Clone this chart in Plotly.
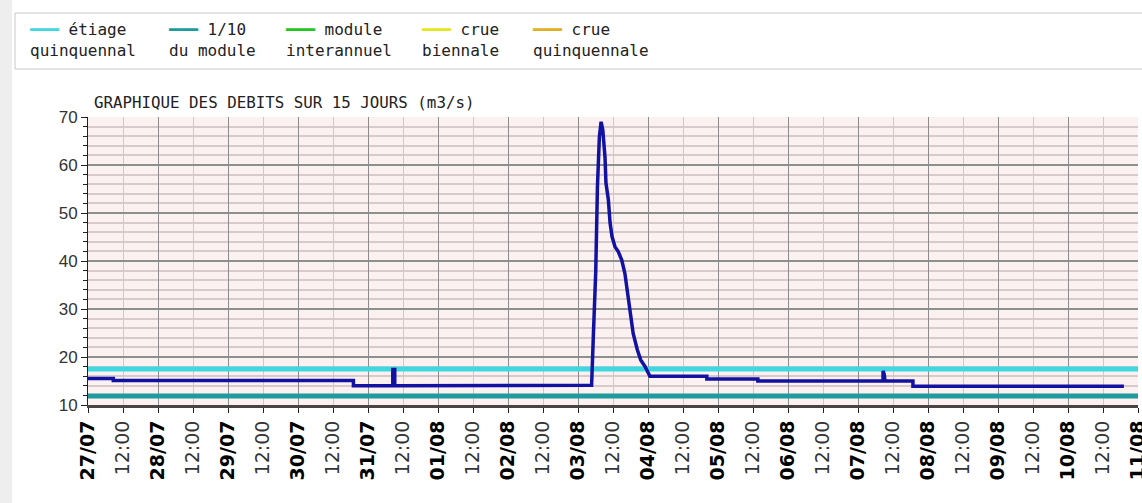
import plotly.graph_objects as go

# ---------------- data ----------------
YEAR = "2023"
flow_times = [
    "07-27 00:00", "07-27 08:40", "07-27 08:40", "07-30 19:00", "07-30 19:00",
    "07-31 08:30", "07-31 08:30", "07-31 09:10", "07-31 09:10",
    "08-03 04:40", "08-03 05:15", "08-03 06:05", "08-03 06:40", "08-03 07:20",
    "08-03 07:55", "08-03 08:30", "08-03 09:15", "08-03 09:35", "08-03 10:25",
    "08-03 11:00", "08-03 11:40", "08-03 12:40", "08-03 13:50", "08-03 15:00",
    "08-03 16:05", "08-03 16:55", "08-03 17:50", "08-03 18:55", "08-03 20:20",
    "08-03 21:30", "08-03 23:00", "08-04 00:05", "08-04 00:40",
    "08-04 20:10", "08-04 20:10", "08-05 13:40", "08-05 13:40",
    "08-07 08:35", "08-07 08:35", "08-07 09:00", "08-07 09:15",
    "08-07 18:50", "08-07 18:50", "08-10 19:10",
]
flow_values = [
    15.5, 15.5, 15.1, 15.1, 14.0,
    14.0, 17.4, 17.4, 14.0,
    14.1, 24.2, 37.8, 55.5, 65.9,
    69.0, 67.3, 61.7, 56.3, 52.7,
    47.9, 45.1, 43.0, 41.9, 40.2,
    37.4, 33.3, 29.1, 24.9, 21.5,
    19.4, 18.0, 16.6, 16.0,
    16.0, 15.4, 15.4, 15.0,
    15.0, 17.1, 16.4, 15.0,
    15.0, 13.9, 13.9,
]
etiage_quinquennal = 17.5
dixieme_module = 11.9

day_labels = ["27/07", "28/07", "29/07", "30/07", "31/07", "01/08", "02/08", "03/08",
              "04/08", "05/08", "06/08", "07/08", "08/08", "09/08", "10/08", "11/08"]
day_dates = ["07-27", "07-28", "07-29", "07-30", "07-31", "08-01", "08-02", "08-03",
             "08-04", "08-05", "08-06", "08-07", "08-08", "08-09", "08-10", "08-11"]
noon_label = "12:00"

legend_line1 = ["étiage", "1/10", "module", "crue", "crue"]
legend_line2 = ["quinquennal", "du module", "interannuel", "biennale", "quinquennale"]
legend_colors = ["#3fd8e0", "#1f9a9e", "#1ec81e", "#e6e61e", "#e0b020"]

title_text = "GRAPHIQUE DES DEBITS SUR 15 JOURS (m3/s)"

# ---------------- build ----------------
W, H = 1142, 503
L, R, T, B = 88, 4, 117, 98
PW, PH = W - L - R, H - T - B


def px_x(p):
    return (p - L) / PW


def px_y(p):
    return (H - B - p) / PH


times = [f"{YEAR}-{t}" for t in flow_times]
x_start = f"{YEAR}-{day_dates[0]} 00:00"
x_end = f"{YEAR}-{day_dates[-1]} 00:00"

tickvals, ticktext = [], []
for i, (d, lab) in enumerate(zip(day_dates, day_labels)):
    tickvals.append(f"{YEAR}-{d} 00:00")
    ticktext.append(f"<b>{lab}</b>")
    if i < len(day_dates) - 1:
        tickvals.append(f"{YEAR}-{d} 12:00")
        ticktext.append(f"<span style='color:#333'>{noon_label}</span>")
day_vals = [f"{YEAR}-{d} 00:00" for d in day_dates]

fig = go.Figure()
fig.add_trace(go.Scatter(x=[x_start, x_end], y=[etiage_quinquennal] * 2, mode="lines",
                         line=dict(color=legend_colors[0], width=5), hoverinfo="skip"))
fig.add_trace(go.Scatter(x=[x_start, x_end], y=[dixieme_module] * 2, mode="lines",
                         line=dict(color=legend_colors[1], width=5), hoverinfo="skip"))
fig.add_trace(go.Scatter(x=times, y=flow_values, mode="lines", xaxis="x2",
                         line=dict(color="#1212a2", width=3.5)))

shapes = [
    dict(type="rect", xref="paper", yref="paper", x0=px_x(0), x1=px_x(12),
         y0=px_y(H), y1=px_y(0), fillcolor="#eeeeee", line=dict(width=0), layer="below"),
    dict(type="rect", xref="paper", yref="paper", x0=px_x(15), x1=px_x(1170),
         y0=px_y(69), y1=px_y(13), fillcolor="white", line=dict(color="#c8c8c8", width=1)),
]

annotations = [
    dict(text=title_text, xref="paper", yref="paper", x=px_x(92), y=px_y(114),
         xanchor="left", yanchor="bottom", showarrow=False,
         font=dict(family="DejaVu Sans Mono", size=15.8, color="#222")),
]
legend_x = [28, 167, 284, 420, 531]
for xp, l1, l2, c in zip(legend_x, legend_line1, legend_line2, legend_colors):
    annotations.append(dict(
        text=f"<span style='color:{c}'>━━━</span> {l1}<br>{l2}",
        xref="paper", yref="paper", x=px_x(xp), y=px_y(19), xanchor="left", yanchor="top",
        align="left", showarrow=False, borderpad=0,
        font=dict(family="DejaVu Sans Mono", size=16, color="#222")))

fig.update_layout(
    width=W, height=H,
    margin=dict(l=L, r=R, t=T, b=B),
    paper_bgcolor="white", plot_bgcolor="#fcf1f1",
    showlegend=False,
    shapes=shapes, annotations=annotations,
    xaxis=dict(type="date", range=[x_start, x_end], tickmode="array",
               tickvals=tickvals, ticktext=ticktext, tickangle=-90,
               ticks="outside", ticklen=5, tickcolor="#222",
               ticklabeloverflow="allow", automargin=False,
               showgrid=True, gridcolor="#d2c8c8", gridwidth=1,
               showline=True, linecolor="#4a4444", linewidth=3,
               tickfont=dict(family="DejaVu Sans", size=19, color="#000"),
               zeroline=False),
    xaxis2=dict(type="date", overlaying="x", matches="x", anchor="y", side="bottom",
                tickmode="array", tickvals=day_vals, showticklabels=False, ticks="",
                showgrid=True, gridcolor="#8c8c8c", gridwidth=1, showline=False,
                zeroline=False, automargin=False),
    yaxis=dict(range=[10, 70], dtick=10, tick0=10, ticks="outside", ticklen=6,
               automargin=False,
               tickcolor="#222", showline=True, linecolor="#222", linewidth=1,
               showgrid=True, gridcolor="#8f8f8f", gridwidth=1.5, zeroline=False,
               tickfont=dict(family="Liberation Sans", size=17, color="#333"),
               minor=dict(dtick=2, ticks="outside", ticklen=4, tickcolor="#222",
                          showgrid=True, gridcolor="#d8caca", gridwidth=1.5)),
)

fig.write_html("out.html", config={"displayModeBar": False},
               post_script="document.body.style.margin='0';document.body.style.overflow='hidden';")
